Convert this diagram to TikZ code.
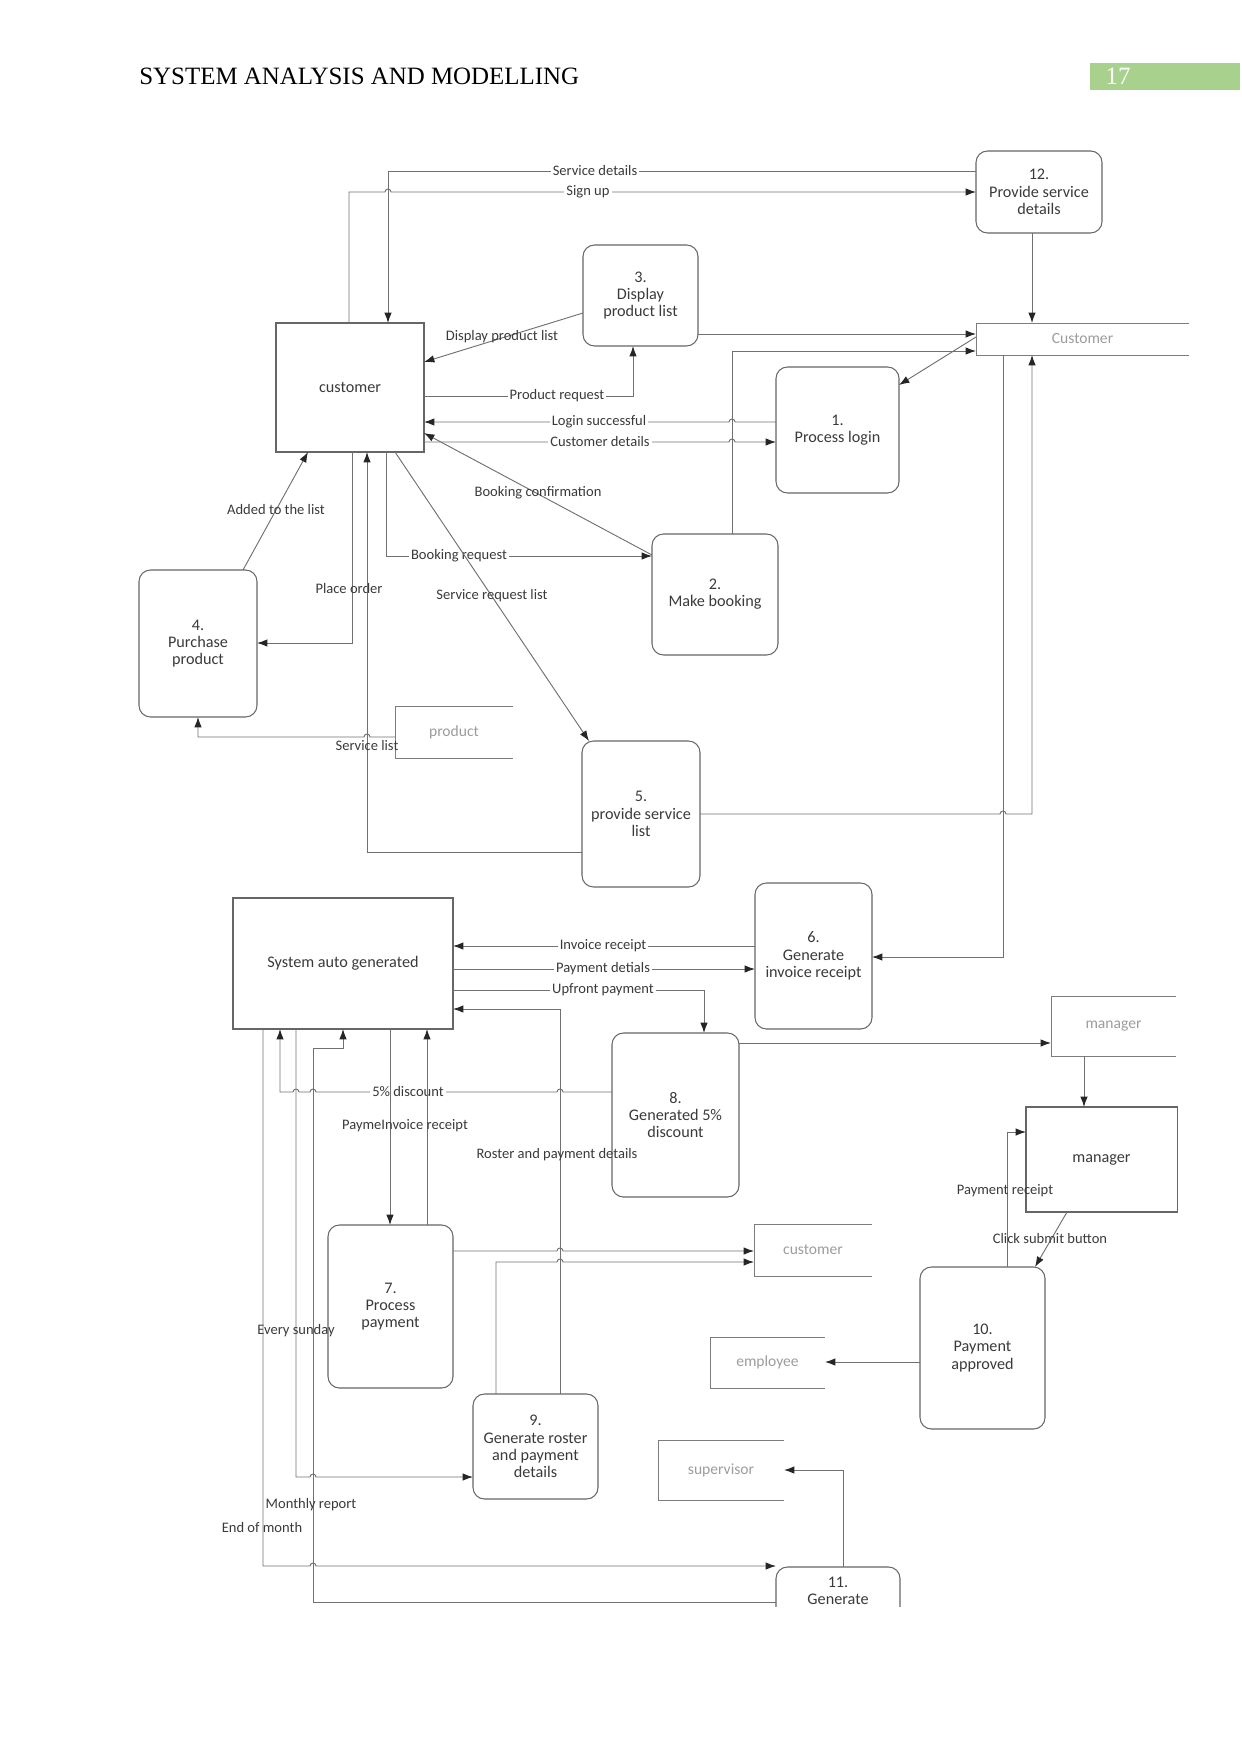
\documentclass[tikz,border=0pt]{standalone}
\usepackage{fontspec}
\setmainfont{Liberation Serif}
\newfontfamily\dfd{Carlito}
\usetikzlibrary{arrows.meta}
\newlength\pxu
\setlength\pxu{0.0169219cm}
\definecolor{ln}{HTML}{707070}
\definecolor{bx}{HTML}{666666}
\definecolor{tx}{HTML}{3A3A3A}
\definecolor{st}{HTML}{9C9C9C}
\definecolor{hdgreen}{HTML}{A9D18E}
\newcommand\boxfont{\dfd\fontsize{7.8}{8.3}\selectfont}
% line hops: right, left
\newcommand\hopr[2]{({#1-3},#2) arc[start angle=180,end angle=360,radius=3]}
\newcommand\hopl[2]{({#1+3},#2) arc[start angle=0,end angle=-180,radius=3]}
\tikzset{
  proc/.style={draw=bx,line width=0.5pt,rounded corners=5.5pt,inner sep=0pt,outer sep=0pt,align=center,text=tx,font=\boxfont},
  ent/.style={draw=bx,line width=0.5pt,inner sep=0pt,outer sep=0pt,text=tx,font=\boxfont},
  store/.style={inner sep=0pt,outer sep=0pt,text=st,font=\dfd\fontsize{7.5}{8}\selectfont},
  flow/.style={draw=ln,line width=0.45pt,-{Latex[length=5pt,width=3.6pt,color=black!85]}},
  lbl/.style={text=tx,font=\dfd\fontsize{7}{8}\selectfont,inner sep=1pt},
  lblw/.style={lbl,fill=white},
}
\begin{document}
\begin{tikzpicture}[x=0.0169219cm,y=-0.0169219cm]
\useasboundingbox (0,0) rectangle (1241,1754);
% page header
\node[anchor=west,font=\fontsize{12}{14}\selectfont] (hdr) at (132,76) {SYSTEM ANALYSIS AND MODELLING};
\node[fill=hdgreen,minimum width=150\pxu,minimum height=27\pxu,inner sep=0pt] (pgbox) at (1165,76.5) {};
\node[text=white,font=\fontsize{12}{14}\selectfont] (pgno) at (1118,76) {17};
\begin{scope}
\clip (0,100) rectangle (1241,1606);
% entities and processes
\node[ent,minimum width=148\pxu,minimum height=129\pxu] (cust) at (350,387.5) {customer};
\node[proc,minimum width=115\pxu,minimum height=101\pxu] (p3) at (640.5,295.5) {3.\\Display\\product list};
\node[proc,minimum width=126\pxu,minimum height=82\pxu] (p12) at (1039,192) {12.\\Provide service\\details};
\node[proc,minimum width=123\pxu,minimum height=126\pxu] (p1) at (837.5,430) {1.\\Process login};
\node[proc,minimum width=126\pxu,minimum height=121\pxu] (p2) at (715,594.5) {2.\\Make booking};
\node[proc,minimum width=118\pxu,minimum height=147\pxu] (p4) at (198,643.5) {4.\\Purchase\\product};
\node[proc,minimum width=118\pxu,minimum height=146\pxu] (p5) at (641,814) {5.\\provide service\\list};
\node[ent,minimum width=220\pxu,minimum height=131\pxu] (sys) at (343,963.5) {System auto generated};
\node[proc,minimum width=117\pxu,minimum height=146\pxu] (p6) at (813.5,956) {6.\\Generate\\invoice receipt};
\node[proc,minimum width=127\pxu,minimum height=164\pxu] (p8) at (675.5,1115) {8.\\Generated 5\%\\discount};
\node[ent,minimum width=151\pxu,minimum height=105\pxu] (mgr) at (1101.5,1159.5) {manager};
\node[proc,minimum width=125\pxu,minimum height=163\pxu] (p7) at (390.5,1306.5) {7.\\Process\\payment};
\node[proc,minimum width=125\pxu,minimum height=105\pxu] (p9) at (535.5,1446.5) {9.\\Generate roster\\and payment\\details};
\node[proc,minimum width=125\pxu,minimum height=162\pxu] (p10) at (982.5,1348) {10.\\Payment\\approved};
\node[proc,minimum width=124\pxu,minimum height=166\pxu] (p11) at (838,1650) {};
\node[align=center,text=tx,font=\boxfont] (p11t) at (838,1591) {11.\\Generate};
% data stores
\node[store,minimum width=213\pxu,minimum height=32\pxu] (sCust) at (1082.5,339) {Customer};
\node[store,minimum width=118\pxu,minimum height=52\pxu] (sProd) at (454,732) {product};
\node[store,minimum width=125\pxu,minimum height=60\pxu] (sMgr) at (1113.5,1026) {manager};
\node[store,minimum width=118\pxu,minimum height=52\pxu] (sCust2) at (813,1250) {customer};
\node[store,minimum width=115\pxu,minimum height=51\pxu] (sEmp) at (767.5,1362.5) {employee};
\node[store,minimum width=126\pxu,minimum height=60\pxu] (sSup) at (721,1470) {supervisor};
\foreach \s in {sCust,sProd,sMgr,sCust2,sEmp,sSup}{
  \draw[draw=bx!85,line width=0.45pt] (\s.north east) -- (\s.north west) -- (\s.south west) -- (\s.south east);}
% flows, top half
\draw[flow] (p12.west |- 0,171) -| (388,0 |- cust.north);
\node[lblw] (lSvc) at (595,171) {Service details};
\draw[flow] (349,0 |- cust.north) -- (349,192) -- \hopr{388}{192} -- (p12.west |- 0,192);
\node[lblw] (lSign) at (588,192) {Sign up};
\draw[flow] (p3.west |- 0,313) -- (cust.east |- 0,362);
\node[lbl] (lDisp) at (502,337) {Display product list};
\draw[flow] (cust.east |- 0,396) -| (633,0 |- p3.south);
\node[lblw] (lProd) at (557,396) {Product request};
\draw[flow] (p3.east |- 0,334) -- (sCust.west |- 0,334);
\draw[flow] (732,0 |- p2.north) |- (sCust.west |- 0,351);
\draw[flow] (sCust.west |- 0,337) -- (p1.east |- 0,385);
\draw[flow] (1032,0 |- p12.south) -- (1032,0 |- sCust.north);
\draw[flow] (p1.west |- 0,422) -- \hopl{732}{422} -- (cust.east |- 0,422);
\node[lblw] (lLog) at (599,422) {Login successful};
\draw[flow] (cust.east |- 0,442) -- \hopr{732}{442} -- (p1.west |- 0,442);
\node[lblw] (lCdet) at (600,442) {Customer details};
\draw[flow] (p2.west |- 0,555) -- (cust.east |- 0,433);
\node[lbl] (lBconf) at (538,493) {Booking confirmation};
\draw[flow] (386,0 |- cust.south) |- (p2.west |- 0,556);
\node[lblw] (lBreq) at (459,556) {Booking request};
\draw[flow] (395,0 |- cust.south) -- (589,0 |- p5.north);
\node[lbl] (lSreq) at (492,596) {Service request list};
\draw[flow] (243,0 |- p4.north) -- (308,0 |- cust.south);
\node[lbl] (lAdd) at (276,510) {Added to the list};
\draw[flow] (352,0 |- cust.south) |- (p4.east |- 0,643);
\node[lbl] (lOrd) at (349,589) {Place order};
\draw[flow] (sProd.west |- 0,737) -- \hopl{367}{737} -| (198,0 |- p4.south);
\draw[flow] (p5.west |- 0,852) -| (367,0 |- cust.south);
\node[lbl] (lSlist) at (367,746) {Service list};
\draw[flow] (p5.east |- 0,814) -- \hopr{1003}{814} -| (1032,0 |- sCust.south);
\draw[flow] (1003,0 |- sCust.south) |- (p6.east |- 0,957);
% flows, bottom half
\draw[flow] (p6.west |- 0,946) -- (sys.east |- 0,946);
\node[lblw] (lInv) at (603,946) {Invoice receipt};
\draw[flow] (sys.east |- 0,969) -- (p6.west |- 0,969);
\node[lblw] (lPdet) at (603,969) {Payment detials};
\draw[flow] (sys.east |- 0,990) -| (704,0 |- p8.north);
\node[lblw] (lUp) at (603,990) {Upfront payment};
\draw[flow] (560,0 |- p9.north) |- (sys.east |- 0,1009);
\node[lbl] (lRost) at (557,1155) {Roster and payment details};
\draw[flow] (p8.east |- 0,1043) -- (sMgr.west |- 0,1043);
\draw[flow] (1084,0 |- sMgr.south) -- (1084,0 |- mgr.north);
\draw[flow] (1007,0 |- p10.north) |- (mgr.west |- 0,1132);
\node[lbl] (lPrec) at (1005,1191) {Payment receipt};
\draw[flow] (1067,0 |- mgr.south) -- (1035,0 |- p10.north);
\node[lbl] (lClick) at (1050,1238) {Click submit button};
\draw[flow] (p10.west |- 0,1362) -- (sEmp.east |- 0,1362);
\draw[flow] (843,0 |- p11.north) |- (sSup.east |- 0,1470);
\draw[flow] (p8.west |- 0,1092) -- \hopl{560}{1092} -- \hopl{313}{1092} -- \hopl{296}{1092} -| (280,0 |- sys.south);
\node[lblw] (lDisc) at (408,1092) {5\% discount};
\draw[flow] (390,0 |- sys.south) -- (390,0 |- p7.north);
\draw[flow] (427,0 |- p7.north) -- (427,0 |- sys.south);
\node[lbl] (lPinv) at (405,1126) {PaymeInvoice receipt};
\draw[flow] (p7.east |- 0,1251) -- \hopr{560}{1251} -- (sCust2.west |- 0,1251);
\draw[flow] (496,0 |- p9.north) -- (496,1262) -- \hopr{560}{1262} -- (sCust2.west |- 0,1262);
\draw[flow] (296,0 |- sys.south) -- (296,1477) -- \hopr{313}{1477} -- (p9.west |- 0,1477);
\node[lbl] (lSun) at (296,1331) {Every sunday};
\draw[flow] (263,0 |- sys.south) -- (263,1566) -- \hopr{313}{1566} -- (p11.west |- 0,1566);
\node[lbl] (lEom) at (262,1527) {End of month};
\draw[flow] (p11.west |- 0,1602) -| (313,1048) -| (343,0 |- sys.south);
\node[lbl] (lMon) at (311,1505) {Monthly report};
\end{scope}
\end{tikzpicture}
\end{document}
